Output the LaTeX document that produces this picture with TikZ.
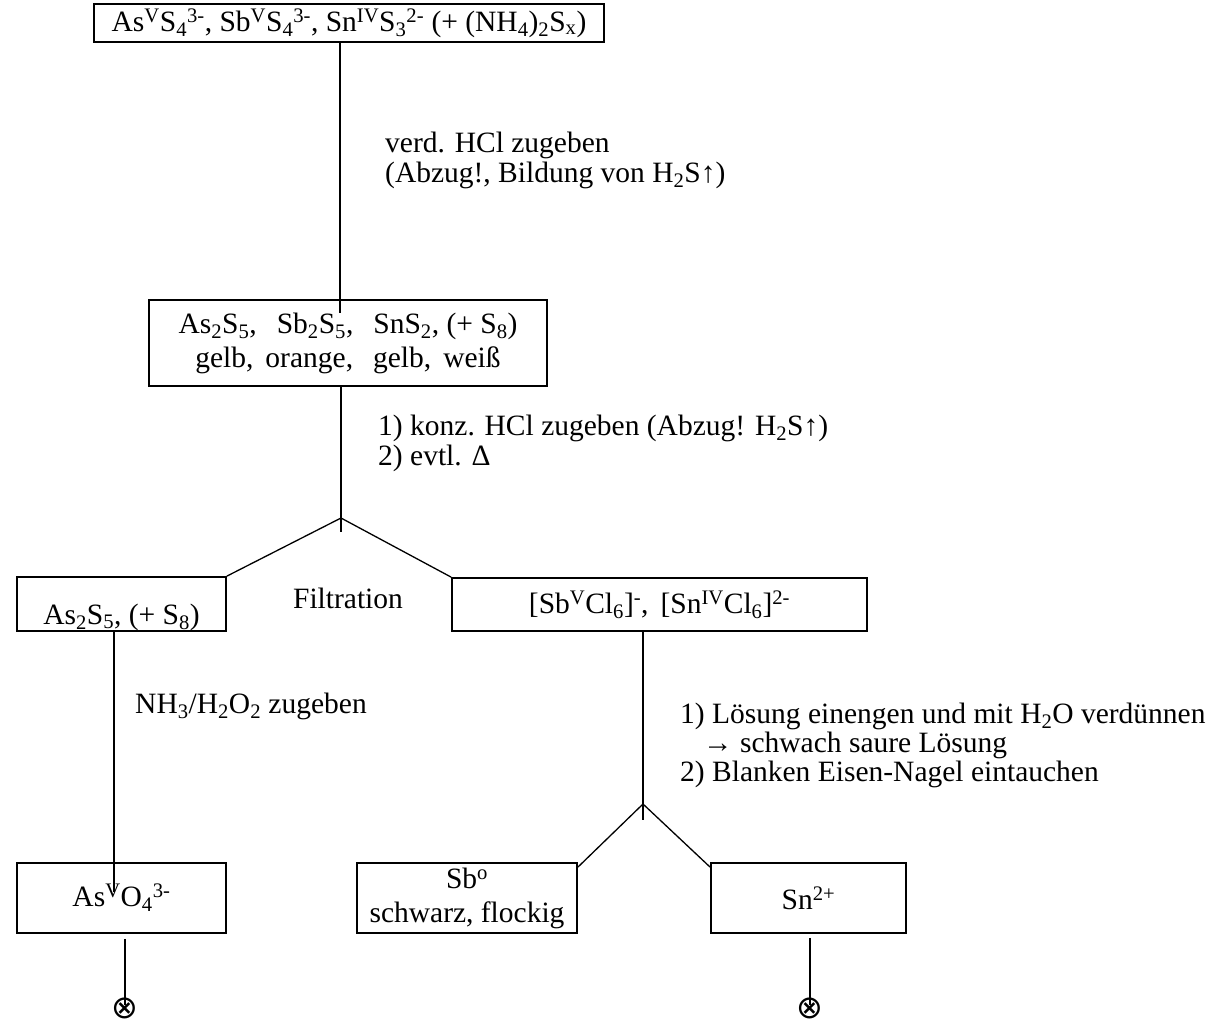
\documentclass[tikz,border=0pt]{standalone}
\usepackage{fontspec}
\setmainfont{Liberation Serif}
\newfontfamily\symfont{DejaVu Sans}
\usetikzlibrary{calc}
\begin{document}
\begin{tikzpicture}[x=1pt,y=-1pt,
  box/.style={draw,line width=1.8pt,inner sep=0pt,align=center,font=\fontsize{29.5}{34}\selectfont},
  conn/.style={line width=1.3pt},
  lbl/.style={anchor=west,inner sep=0pt,align=left,font=\fontsize{29.5}{30}\selectfont},
  endmark/.style={inner sep=0pt,anchor=base,font=\symfont\fontsize{32}{32}\selectfont}]
\useasboundingbox (0,0) rectangle (1212,1029);

% boxes
\node[box,minimum width=510pt,minimum height=38pt] (top) at (349,23)
  {As\textsuperscript{V}S\textsubscript{4}\textsuperscript{3-}, Sb\textsuperscript{V}S\textsubscript{4}\textsuperscript{3-}, Sn\textsuperscript{IV}S\textsubscript{3}\textsuperscript{2-} (+ (NH\textsubscript{4})\textsubscript{2}S\textsubscript{x})};
\node[box,minimum width=398pt,minimum height=86pt] (box2) at (348,343)
  {As\textsubscript{2}S\textsubscript{5},\hspace{20pt}Sb\textsubscript{2}S\textsubscript{5},\hspace{20pt}SnS\textsubscript{2}, (+ S\textsubscript{8})\\
   gelb,\hspace{12pt}orange,\hspace{20pt}gelb,\hspace{12pt}weiß};
\node[box,minimum width=209pt,minimum height=54pt,text height=47pt,text depth=7pt] (lbox) at (121.5,604)
  {As\textsubscript{2}S\textsubscript{5}, (+ S\textsubscript{8})};
\node[box,minimum width=415pt,minimum height=53pt] (rbox) at (659.5,604.5)
  {[Sb\textsuperscript{V}Cl\textsubscript{6}]\textsuperscript{-},\hspace{12pt}[Sn\textsuperscript{IV}Cl\textsubscript{6}]\textsuperscript{2-}};
\node[box,minimum width=209pt,minimum height=70pt] (as) at (121.5,898)
  {As\textsuperscript{V}O\textsubscript{4}\textsuperscript{3-}};
\node[box,minimum width=220pt,minimum height=70pt] (sb) at (467,898)
  {Sb\textsuperscript{o}\\schwarz, flockig};
\node[box,minimum width=195pt,minimum height=70pt] (sn) at (808.5,898)
  {Sn\textsuperscript{2+}};

% end marks
\node[endmark] (x1) at (125,1018) {⊗};
\node[endmark] (x2) at (810,1018) {⊗};
\coordinate (e1) at (125,1005);
\coordinate (e2) at (810,1005);

% labels
\node[lbl] (t1) at (385,160) {verd. HCl zugeben\\(Abzug!, Bildung von H\textsubscript{2}S↑)};
\node[lbl] (t2) at (378,443) {1) konz. HCl zugeben (Abzug! H\textsubscript{2}S↑)\\2) evtl. Δ};
\node[anchor=center,inner sep=0pt,font=\fontsize{29.5}{30}\selectfont] (filt) at (348,598) {Filtration};
\node[lbl] (t3) at (135,706) {NH\textsubscript{3}/H\textsubscript{2}O\textsubscript{2} zugeben};
\node[lbl,font=\fontsize{29.5}{29}\selectfont] (t4) at (680,745)
  {1) Lösung einengen und mit H\textsubscript{2}O verdünnen\\
   \hspace*{23pt}→ schwach saure Lösung\\
   2) Blanken Eisen-Nagel eintauchen};

% connectors
\coordinate (a1) at (340,313);
\draw[conn] (top.south -| a1) -- (a1);
\coordinate (j1) at (341,518);
\coordinate (j1s) at (341,532);
\draw[conn] (box2.south -| j1) -- (j1s);
\draw[conn] (lbox.north east) -- (j1) -- (rbox.north west);
\coordinate (l1) at (114,892);
\draw[conn] (lbox.south -| l1) -- (l1);
\coordinate (j2) at (643,804);
\coordinate (j2s) at (643,820);
\draw[conn] (rbox.south -| j2) -- (j2s);
\draw[conn] ([yshift=-5pt]sb.north east) -- (j2) -- ([yshift=-5pt]sn.north west);
\draw[conn] ([yshift=-5pt]as.south -| e1) -- (e1);
\draw[conn] ([yshift=-4pt]sn.south -| e2) -- (e2);
\end{tikzpicture}
\end{document}
